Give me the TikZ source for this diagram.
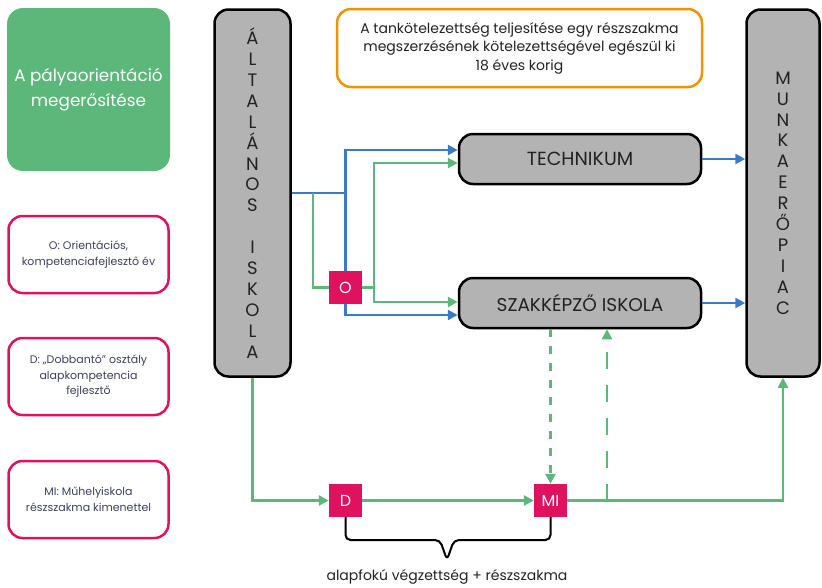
\documentclass[tikz,border=0pt]{standalone}
\usepackage{fontspec}
\setmainfont{Poppins}
\usetikzlibrary{positioning}
\usetikzlibrary{arrows.meta}

\definecolor{zold}{HTML}{5CB87A}
\definecolor{kek}{HTML}{3A7BC8}
\definecolor{piros}{HTML}{E0115F}
\definecolor{szurke}{HTML}{B3B3B3}
\definecolor{narancs}{HTML}{F39200}
\definecolor{sotet}{HTML}{3B3F5C}
\definecolor{szoveg}{HTML}{222222}

\begin{document}
\begin{tikzpicture}[x=1pt, y=-1pt,
      doboz/.style={draw=black, line width=2.5pt, fill=szurke, rounded corners=14pt,
        inner sep=0pt, text=szoveg, align=center},
      betuk/.style={font=\fontsize{18}{20.9}\selectfont},
      jel/.style={fill=piros, text=white, minimum size=33pt, inner sep=0pt,
        font=\fontsize{16}{16}\selectfont},
      magyaraz/.style={draw=piros, line width=2.5pt, rounded corners=14pt, text=sotet,
        minimum width=160pt, minimum height=77pt, align=center,
        font=\fontsize{11}{15.5}\selectfont},
      kekvonal/.style={kek, line width=2.5pt},
      zoldvonal/.style={zold, line width=2.5pt},
      nyil/.style={-{Triangle[length=10pt,width=10pt]}},
      ]
      \useasboundingbox (0,0) rectangle (822,587);
      \node[fill=zold, rounded corners=16pt, minimum width=163pt, minimum height=163pt,
        text=white, align=center, font=\fontsize{16.8}{25}\selectfont]
        (palya) at (88.5,89.5) {A pályaorientáció\\megerősítése};
      \node[magyaraz] (leiro) at (88.5,254.5) {O: Orientációs,\\kompetenciafejlesztő év};
      \node[magyaraz] (leird) at (88.5,376.5) {D: „Dobbantó” osztály\\alapkompetencia\\fejlesztő};
      \node[magyaraz] (leirmi) at (88.5,499.5) {MI: Műhelyiskola\\részszakma kimenettel};

      \node[doboz, betuk, minimum width=76pt, minimum height=367pt] (alt) at (252.5,193)
        {Á\\L\\T\\A\\L\\Á\\N\\O\\S\\~\\I\\S\\K\\O\\L\\A};
      \node[doboz, betuk, minimum width=73pt, minimum height=367pt] (munka) at (783,193)
        {M\\U\\N\\K\\A\\E\\R\\Ő\\P\\I\\A\\C};
      \node[doboz, minimum width=242pt, minimum height=50pt,
        font=\fontsize{19}{19}\selectfont] (tech) at (580,159) {TECHNIKUM};
      \node[doboz, minimum width=242pt, minimum height=50pt,
        font=\fontsize{18.5}{19}\selectfont] (szak) at (580,303) {SZAKKÉPZŐ ISKOLA};
      \node[draw=narancs, line width=2.5pt, rounded corners=14pt, minimum width=365pt,
        minimum height=78pt, align=center, text=szoveg, font=\fontsize{14}{18.5}\selectfont]
        (tanko) at (519.5,48) {A tankötelezettség teljesítése egy részszakma\\
        megszerzésének kötelezettségével egészül ki\\18 éves korig};

      \coordinate (elag) at (345.5,193);
      \coordinate (zelag) at (313,193);
      \draw[kekvonal] (alt.east |- elag) -- (elag);
      \draw[kekvonal, nyil] (elag) |- ([yshift=9pt]tech.west);
      \draw[kekvonal, nyil] (elag) |- ([yshift=-12pt]szak.west);

      \node[jel] (O) at (345.5,287.5) {O};
      \coordinate (zelag2) at (374,287.5);
      \draw[zoldvonal] (zelag) |- (O.west);
      \draw[zoldvonal] (O.east) -- (zelag2);
      \draw[zoldvonal, nyil] (zelag2) |- ([yshift=-4pt]tech.west);
      \draw[zoldvonal, nyil] (zelag2) |- ([yshift=1pt]szak.west);

      \draw[kekvonal, nyil] (tech.east) -- (tech.east -| munka.west);
      \draw[kekvonal, nyil] (szak.east) -- (szak.east -| munka.west);

      \node[jel] (D) at (345.5,500.5) {D};
      \node[jel] (MI) at (550.5,500.5) {MI};
      \coordinate (vissza) at (607,500.5);
      \draw[zoldvonal, nyil] (alt.south) |- (D.west);
      \draw[zoldvonal, nyil] (D) -- (MI);
      \draw[zoldvonal, nyil] (MI.east) -| (munka.south);
      \draw[zoldvonal, nyil, dash pattern=on 8pt off 9pt] (szak.south -| MI) -- (MI.north);
      \draw[zoldvonal, nyil, dash pattern=on 17pt off 16pt] (vissza) -- (vissza |- szak.south);

      \coordinate (csucs) at (447,560);
      \draw[black, line width=2pt, rounded corners=5pt] (D.south) -- (D.south |- 0,540)
        -- (440,540) -- (csucs) -- (454,540) -- (MI.south |- 0,540) -- (MI.south);
      \node[text=szoveg, font=\fontsize{14}{14}\selectfont] (alapfok) at (447,577)
        {alapfokú végzettség + részszakma};
    \end{tikzpicture}
\end{document}
